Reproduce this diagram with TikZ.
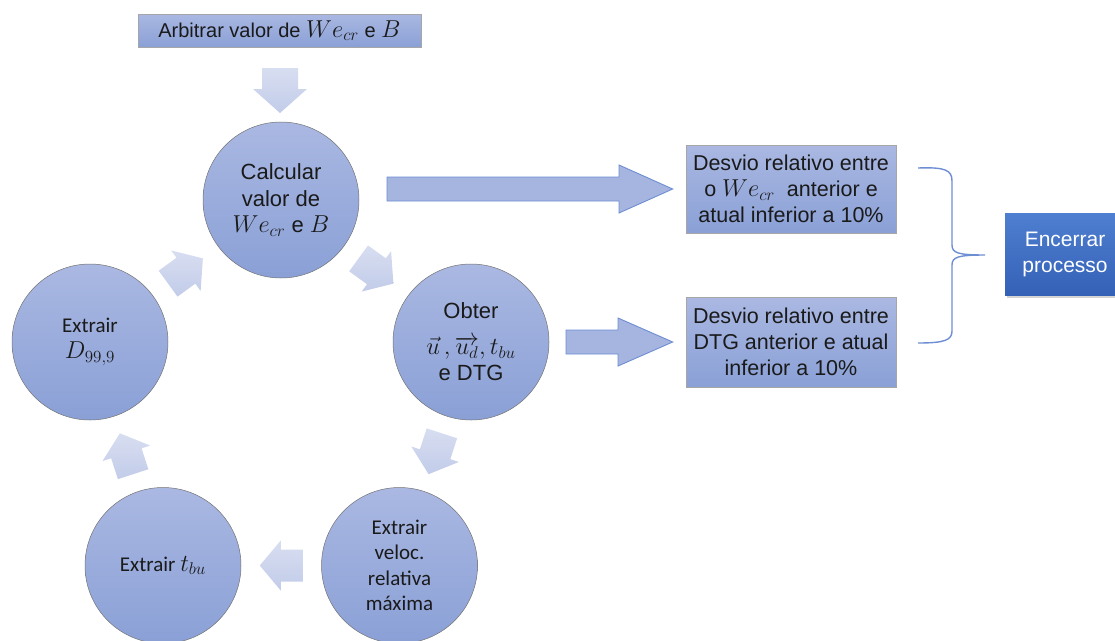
\documentclass[tikz,border=0pt]{standalone}
\usepackage{fontspec}
\setmainfont{Liberation Sans}
\newfontfamily\calib{Carlito}
\usetikzlibrary{calc,shadows}
\newcommand\mth[1]{\scalebox{1.18}{$#1$}}
\definecolor{cTop}{HTML}{AAB8E2}
\definecolor{cBot}{HTML}{8AA0D6}
\definecolor{pTop}{HTML}{D8DEF1}
\definecolor{pBot}{HTML}{C2CCE9}
\definecolor{bFill}{HTML}{A6B4E0}
\definecolor{bLine}{HTML}{6D8ED3}
\definecolor{eTop}{HTML}{4F7FD1}
\definecolor{eBot}{HTML}{3461B6}
\definecolor{txt}{HTML}{1A1A1A}
\tikzset{
  circ/.style={circle, minimum size=156pt, inner sep=0pt, align=center,
    top color=cTop, bottom color=cBot, draw=black!55, line width=0.5pt, text=txt},
  rbox/.style={rectangle, inner sep=0pt, align=center,
    top color=cTop, bottom color=cBot, draw=black!35, line width=0.6pt, text=txt},
  pale/.style={top color=pTop, bottom color=pBot, draw=none},
  bigarrow/.style={fill=bFill, draw=bLine, line width=0.9pt, line join=miter},
  bracestyle/.style={draw=bLine, line width=1.4pt},
  cyc/.pic={\path[pale] (-21.5,-16)--(0.5,-16)--(0.5,-25)--(21.5,0)--(0.5,25)--(0.5,16)--(-21.5,16)--cycle;},
  downar/.pic={\path[pale] (-22.5,-18)--(-1.5,-18)--(-1.5,-27)--(22.5,0)--(-1.5,27)--(-1.5,18)--(-22.5,18)--cycle;}
}
\begin{document}
\begin{tikzpicture}[x=1pt,y=-1pt]
\useasboundingbox (0,0) rectangle (1115,640);
% top box
\node[rbox, minimum width=283pt, minimum height=33pt, font=\fontsize{20}{23}\selectfont] (top) at (279.5,30.5) {Arbitrar valor de \mth{We_{cr}} e \mth{B}};
% cycle circles
\node[circ, font=\fontsize{22}{26.5}\selectfont] (c1) at (281,200) {Calcular\\valor de\\\mth{We_{cr}} e \mth{B}};
\node[circ, font=\fontsize{22}{26}\selectfont] (c2) at (471,342) {Obter\\[10pt]\mth{\vec{u}\,,\overrightarrow{u_d},t_{bu}}\\e DTG};
\node[circ, font=\calib\fontsize{21}{25.5}\selectfont] (c3) at (399.5,565.5) {Extrair\\veloc.\\relativa\\máxima};
\node[circ, font=\calib\fontsize{21}{25.5}\selectfont] (c4) at (163,565.5) {Extrair \mth{t_{bu}}};
\node[circ, font=\calib\fontsize{21}{25.5}\selectfont] (c5) at (90,342) {Extrair\\\mth{D_{99,9}}};
% down arrow
\pic[rotate=-90] at (280,90.5) {downar};
% cycle arrows
\pic[rotate=-36] at ($(c1)!0.5!(c2)$) {cyc};
\pic[rotate=-108] at ($(c2)!0.5!(c3)$) {cyc};
\pic[rotate=180] at ($(c3)!0.5!(c4)$) {cyc};
\pic[rotate=108] at ($(c4)!0.5!(c5)$) {cyc};
\pic[rotate=36] at ($(c5)!0.5!(c1)$) {cyc};
% right boxes
\node[rbox, minimum width=210pt, minimum height=88pt, font=\fontsize{21.5}{26}\selectfont] (b1) at (791,189) {Desvio relativo entre\\o \mth{We_{cr}}\ \ anterior e\\atual inferior a 10\%};
\node[rbox, minimum width=210pt, minimum height=90pt, font=\fontsize{21.5}{26}\selectfont] (b2) at (791,342) {Desvio relativo entre\\DTG anterior e atual\\inferior a 10\%};
% big arrows
\path[bigarrow] (387,177) -- (619,177) -- (619,165) -- ($(b1.west)+(-13,0)$) -- (619,213) -- (619,201) -- (387,201) -- cycle;
\path[bigarrow] (566,330) -- (618,330) -- (618,318) -- ($(b2.west)+(-13,0)$) -- (618,366) -- (618,354) -- (566,354) -- cycle;
% brace
\coordinate (brT) at (918,168);
\coordinate (brB) at (918,343);
\coordinate (brM) at (985,255);
\path[bracestyle] (brT) .. controls (945,167) and (952,170) .. (952,181) -- (952,245)
  .. controls (952,253) and (958,255) .. (brM)
  .. controls (958,255) and (952,257) .. (952,265) -- (952,331)
  .. controls (952,340) and (945,343) .. (brB);
% end box
\node[rectangle, minimum width=120pt, minimum height=82pt, inner sep=0pt, align=center,
  top color=eTop, bottom color=eBot, text=white, font=\fontsize{21}{26}\selectfont,
  drop shadow={opacity=0.35, shadow xshift=2pt, shadow yshift=-3pt}] (enc) at (1065,254) {Encerrar\\processo};
\end{tikzpicture}
\end{document}
